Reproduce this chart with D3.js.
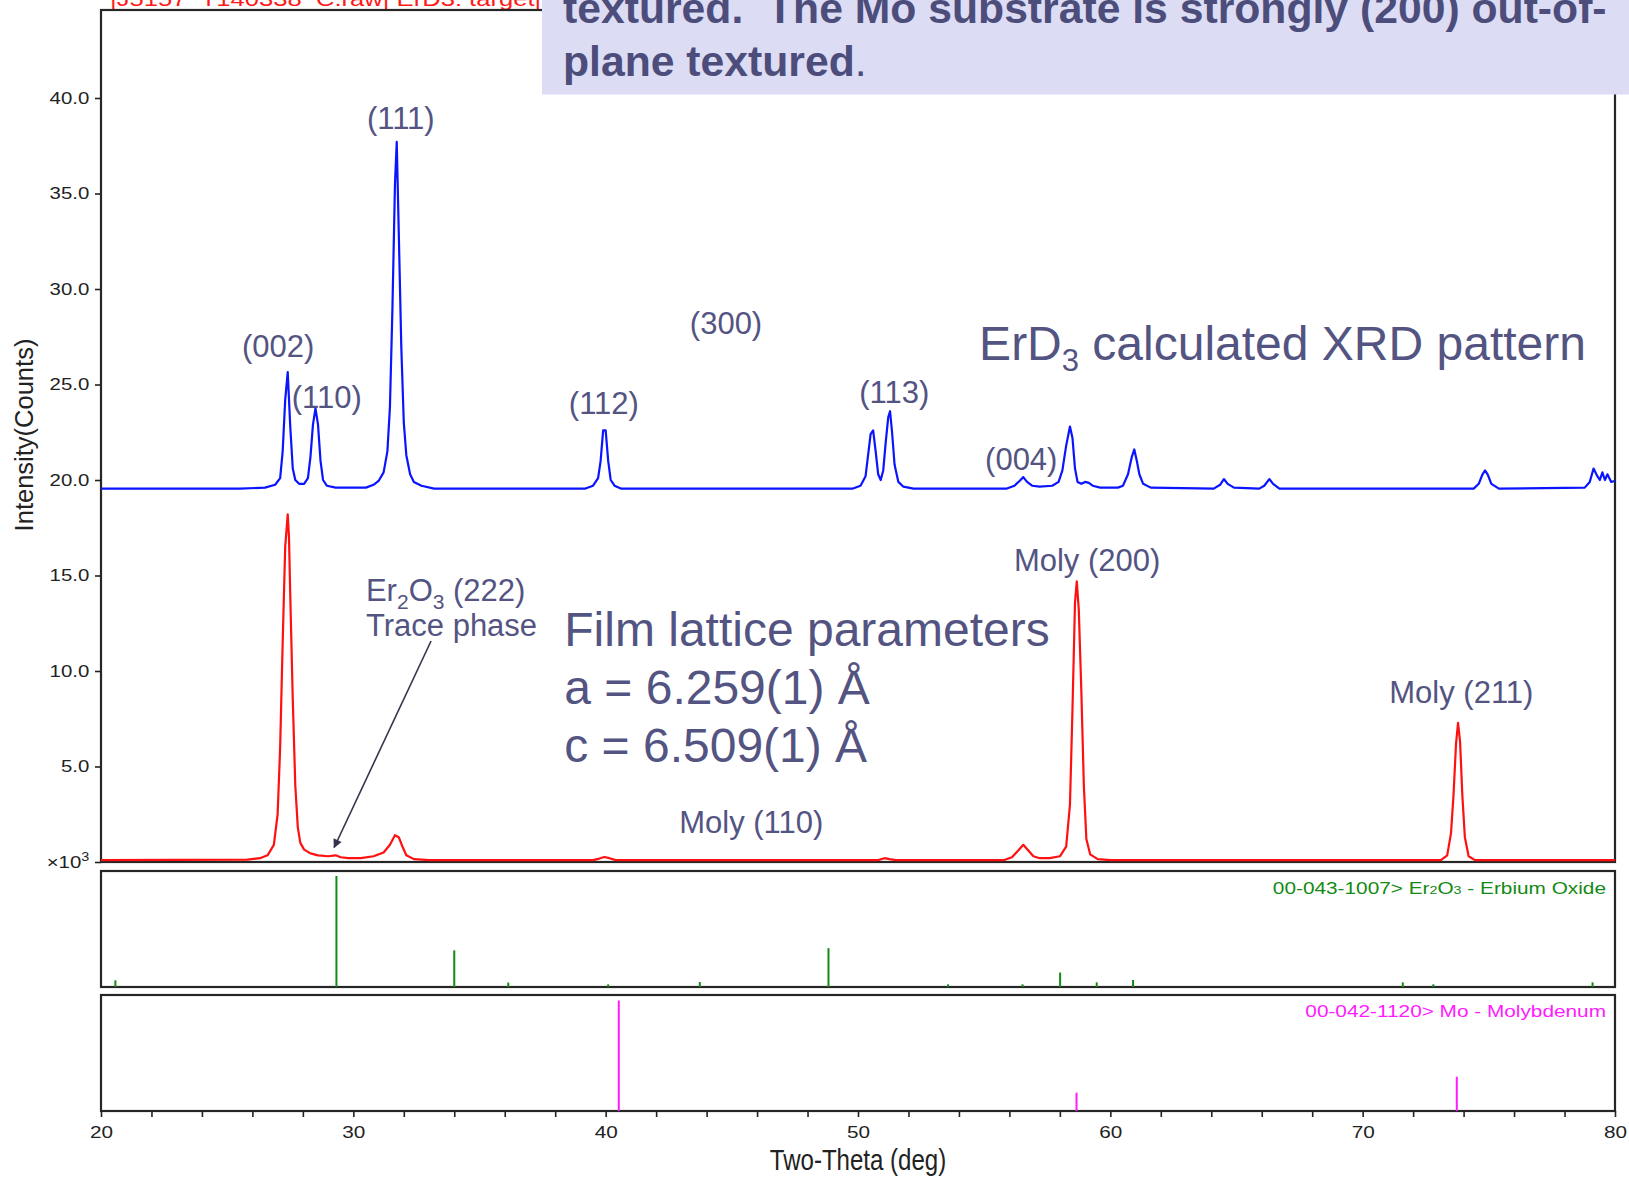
<!DOCTYPE html>
<html>
<head>
<meta charset="utf-8">
<script src="https://cdn.jsdelivr.net/npm/d3@7"></script>
<style>
  html, body { margin: 0; padding: 0; background: #fff; }
  svg { display: block; }
</style>
</head>
<body>
<svg id="chart" width="1629" height="1177"></svg>
<script>
// ErD3 calculated pattern: [2θ (deg), intensity (×10³ counts)]
const erd3Calculated = [
  [20.0, 19.55], [25.5, 19.55], [26.5, 19.6], [26.9, 19.75], [27.1, 20.1], [27.2, 21.5],
  [27.3, 24.2], [27.4, 25.65], [27.5, 22.8], [27.6, 20.6], [27.7, 20.0], [27.85, 19.8],
  [28.05, 19.8], [28.2, 20.1], [28.3, 21.2], [28.4, 22.9], [28.5, 23.75], [28.6, 22.9],
  [28.7, 21.0], [28.8, 20.0], [28.95, 19.7], [29.3, 19.6], [30.5, 19.6], [30.8, 19.75],
  [31.0, 19.95], [31.2, 20.4], [31.35, 21.5], [31.45, 23.8], [31.55, 29.0], [31.65, 35.5],
  [31.72, 37.7], [31.8, 33.0], [31.9, 27.0], [32.0, 23.0], [32.1, 21.3], [32.25, 20.3],
  [32.4, 19.9], [32.7, 19.7], [33.2, 19.55], [39.2, 19.55], [39.5, 19.7], [39.7, 20.1],
  [39.8, 21.0], [39.9, 22.6], [40.0, 22.6], [40.1, 21.0], [40.2, 20.0], [40.35, 19.7],
  [40.6, 19.55], [49.8, 19.55], [50.1, 19.7], [50.3, 20.2], [50.4, 21.3], [50.5, 22.4],
  [50.6, 22.6], [50.7, 21.5], [50.8, 20.3], [50.9, 20.0], [51.0, 20.5], [51.1, 22.0],
  [51.2, 23.3], [51.27, 23.6], [51.35, 22.5], [51.45, 20.8], [51.6, 19.9], [51.8, 19.65],
  [52.2, 19.55], [55.9, 19.55], [56.2, 19.7], [56.4, 19.95], [56.55, 20.15], [56.7, 19.9],
  [56.9, 19.7], [57.2, 19.65], [57.7, 19.7], [57.95, 19.9], [58.1, 20.5], [58.25, 21.8],
  [58.4, 22.8], [58.5, 22.2], [58.6, 20.6], [58.7, 19.9], [58.85, 19.8], [59.0, 19.9],
  [59.15, 19.85], [59.3, 19.7], [59.6, 19.6], [60.3, 19.6], [60.5, 19.7], [60.7, 20.3],
  [60.85, 21.2], [60.95, 21.6], [61.05, 21.0], [61.15, 20.3], [61.3, 19.8], [61.6, 19.6],
  [64.1, 19.55], [64.35, 19.75], [64.5, 20.05], [64.65, 19.8], [64.9, 19.6], [65.9, 19.55],
  [66.1, 19.7], [66.3, 20.05], [66.45, 19.8], [66.7, 19.55], [74.4, 19.55], [74.6, 19.8],
  [74.75, 20.3], [74.85, 20.5], [74.95, 20.3], [75.1, 19.8], [75.4, 19.55], [78.8, 19.6],
  [79.0, 19.9], [79.15, 20.6], [79.3, 20.2], [79.4, 20.0], [79.5, 20.4], [79.6, 20.0],
  [79.7, 20.3], [79.85, 19.9], [80.0, 19.95]
];

// Measured film scan: [2θ (deg), intensity (×10³ counts)]
const filmMeasured = [
  [20.0, 0.1], [25.8, 0.12], [26.3, 0.2], [26.6, 0.35], [26.85, 0.9], [27.0, 2.5],
  [27.1, 6.0], [27.2, 11.5], [27.3, 16.5], [27.4, 18.2], [27.45, 17.0], [27.5, 14.0],
  [27.6, 8.5], [27.7, 4.0], [27.8, 1.8], [27.9, 1.0], [28.05, 0.65], [28.3, 0.45],
  [28.6, 0.35], [29.0, 0.3], [29.3, 0.35], [29.5, 0.25], [29.8, 0.2], [30.3, 0.2],
  [30.8, 0.3], [31.2, 0.5], [31.45, 0.9], [31.65, 1.4], [31.8, 1.3], [31.95, 0.8],
  [32.1, 0.35], [32.4, 0.15], [33.0, 0.1], [39.5, 0.1], [39.75, 0.18], [39.95, 0.26],
  [40.15, 0.2], [40.4, 0.1], [50.8, 0.1], [51.05, 0.2], [51.25, 0.15], [51.5, 0.1],
  [55.8, 0.1], [56.1, 0.25], [56.35, 0.6], [56.55, 0.9], [56.75, 0.6], [56.95, 0.3],
  [57.2, 0.2], [57.6, 0.2], [58.0, 0.3], [58.25, 0.8], [58.4, 3.0], [58.5, 8.0],
  [58.6, 13.6], [58.67, 14.7], [58.75, 13.2], [58.85, 9.0], [58.95, 4.0], [59.05, 1.2],
  [59.2, 0.4], [59.5, 0.15], [60.0, 0.1], [73.1, 0.1], [73.35, 0.35], [73.5, 1.5],
  [73.6, 3.5], [73.7, 6.2], [73.78, 7.28], [73.86, 6.3], [73.95, 3.5], [74.05, 1.3],
  [74.2, 0.3], [74.45, 0.1], [80.0, 0.1]
];

// Reference stick patterns: [2θ (deg), relative intensity (%)]
const er2o3Reference = [
  [20.57, 6], [29.33, 100], [34.0, 33], [36.14, 4], [40.1, 2.4], [43.73, 4.5],
  [48.83, 35], [53.57, 2.4], [56.52, 2.4], [58.01, 13], [59.46, 4.2], [60.9, 6.3],
  [71.59, 4.2], [72.8, 2.4], [79.11, 4.2]
];
const moReference = [[40.52, 100], [58.66, 16.6], [73.73, 31]];

const intensityTicks = [0, 5, 10, 15, 20, 25, 30, 35, 40];
const twoThetaTicks = [20, 22, 24, 26, 28, 30, 32, 34, 36, 38, 40, 42, 44, 46, 48, 50,
  52, 54, 56, 58, 60, 62, 64, 66, 68, 70, 72, 74, 76, 78, 80];
const twoThetaLabels = [20, 30, 40, 50, 60, 70, 80];

const FONT = "'Liberation Sans', Arial, Helvetica, sans-serif";
const NOTE = "#545482";
const svg = d3.select("#chart").style("font-family", FONT);

const L = 101, R = 1615;
const x = d3.scaleLinear().domain([20, 80]).range([L, R]);
const y = d3.scaleLinear().domain([0, 40]).range([862, 98]);
const yEr = d3.scaleLinear().domain([0, 100]).range([987, 876]);
const yMo = d3.scaleLinear().domain([0, 100]).range([1111, 1000.5]);

const defs = svg.append("defs");
defs.append("clipPath").attr("id", "plotClip")
  .append("rect").attr("x", L).attr("y", 10).attr("width", R - L).attr("height", 855);
defs.append("marker").attr("id", "arrowHead")
  .attr("viewBox", "0 0 10 10").attr("refX", 9).attr("refY", 5)
  .attr("markerWidth", 10).attr("markerHeight", 9).attr("markerUnits", "userSpaceOnUse")
  .attr("orient", "auto")
  .append("path").attr("d", "M0,0 L10,5 L0,10 z").attr("fill", "#34344e");

// run header text along the top edge
svg.append("text")
  .attr("transform", "translate(110,6) scale(1.22,1)")
  .attr("font-size", 21).attr("fill", "#ff1a1a")
  .text("|J5157_T140338_C.raw| ErD3: target|");

// panel frames
const frame = svg.append("g").attr("fill", "none").attr("stroke", "#262626").attr("stroke-width", 2.2);
frame.append("rect").attr("x", L).attr("y", 10).attr("width", R - L).attr("height", 852);
frame.append("rect").attr("x", L).attr("y", 871).attr("width", R - L).attr("height", 116);
frame.append("rect").attr("x", L).attr("y", 995).attr("width", R - L).attr("height", 116);

// intensity axis
const yAxis = svg.append("g").attr("transform", `translate(${L},0)`)
  .call(d3.axisLeft(y).tickValues(intensityTicks).tickSize(6)
    .tickFormat(d => d === 0 ? "" : d.toFixed(1)));
yAxis.select(".domain").remove();
yAxis.selectAll(".tick line").attr("stroke", "#222").attr("stroke-width", 1.6);
yAxis.selectAll(".tick text").attr("font-family", FONT).attr("font-size", 17)
  .attr("fill", "#222").attr("x", -9.8).attr("transform", "scale(1.2,1)");
const expo = svg.append("text")
  .attr("transform", `translate(${L - 11.7},${y(0) + 6}) scale(1.2,1)`)
  .attr("text-anchor", "end").attr("font-size", 17).attr("fill", "#222");
expo.append("tspan").text("×10");
expo.append("tspan").attr("font-size", 12).attr("dy", -7).text("3");

// two-theta axis
const xAxis = svg.append("g").attr("transform", "translate(0,1111)")
  .call(d3.axisBottom(x).tickValues(twoThetaTicks).tickSize(6)
    .tickFormat(d => twoThetaLabels.includes(d) ? d : ""));
xAxis.select(".domain").remove();
xAxis.selectAll(".tick line").attr("stroke", "#222").attr("stroke-width", 1.6);
xAxis.selectAll(".tick text").attr("font-family", FONT).attr("font-size", 17)
  .attr("fill", "#222").attr("y", 27).attr("dy", 0).attr("transform", "scale(1.22,1)");

svg.append("text")
  .attr("transform", `translate(${x(50)},1170) scale(0.83,1)`)
  .attr("text-anchor", "middle").attr("font-size", 29).attr("fill", "#222")
  .text("Two-Theta (deg)");
svg.append("text")
  .attr("transform", "translate(33,435) rotate(-90)")
  .attr("text-anchor", "middle").attr("font-size", 25.5).attr("fill", "#222")
  .text("Intensity(Counts)");

// diffraction traces
const line = d3.line().x(d => x(d[0])).y(d => y(d[1]));
const traces = svg.append("g").attr("clip-path", "url(#plotClip)").attr("fill", "none")
  .attr("stroke-width", 2.2).attr("stroke-linejoin", "round");
traces.append("path").datum(erd3Calculated).attr("stroke", "#0a14ff").attr("d", line);
traces.append("path").datum(filmMeasured).attr("stroke", "#ff1010").attr("d", line);

// reference sticks
svg.append("g").selectAll("line").data(er2o3Reference).join("line")
  .attr("x1", d => x(d[0])).attr("x2", d => x(d[0]))
  .attr("y1", yEr(0)).attr("y2", d => yEr(d[1]))
  .attr("stroke", "#138a13").attr("stroke-width", 2);
svg.append("g").selectAll("line").data(moReference).join("line")
  .attr("x1", d => x(d[0])).attr("x2", d => x(d[0]))
  .attr("y1", yMo(0)).attr("y2", d => yMo(d[1]))
  .attr("stroke", "#ff1aff").attr("stroke-width", 2);

const erLegend = svg.append("text")
  .attr("transform", "translate(1606,894) scale(1.3,1)")
  .attr("text-anchor", "end").attr("font-size", 16).attr("fill", "#138a13");
erLegend.append("tspan").text("00-043-1007> Er");
erLegend.append("tspan").attr("font-size", 11).text("2");
erLegend.append("tspan").text("O");
erLegend.append("tspan").attr("font-size", 11).text("3");
erLegend.append("tspan").text(" - Erbium Oxide");
svg.append("text")
  .attr("transform", "translate(1606,1017) scale(1.3,1)")
  .attr("text-anchor", "end").attr("font-size", 16).attr("fill", "#ff1aff")
  .text("00-042-1120> Mo - Molybdenum");

// peak annotations, anchored in data units
const notes = svg.append("g").attr("fill", NOTE);
const hkl = [
  ["(002)", 27.02, 26.44], ["(110)", 28.95, 23.77], ["(111)", 31.88, 38.38],
  ["(300)", 44.77, 27.62], ["(112)", 39.93, 23.43], ["(113)", 51.44, 24.03],
  ["(004)", 56.47, 20.54], ["Moly (200)", 59.08, 15.24], ["Moly (211)", 73.91, 8.32],
  ["Moly (110)", 45.77, 1.52]
];
notes.selectAll("text.hkl").data(hkl).join("text").attr("class", "hkl")
  .attr("x", d => x(d[1])).attr("y", d => y(d[2]))
  .attr("text-anchor", "middle").attr("font-size", 31).text(d => d[0]);

const calc = notes.append("text").attr("x", x(54.8)).attr("y", y(26.26)).attr("font-size", 48);
calc.append("tspan").text("ErD");
calc.append("tspan").attr("font-size", 31).attr("dy", 11).text("3");
calc.append("tspan").attr("dy", -11).text(" calculated XRD pattern");

const trace = notes.append("text").attr("x", x(30.5)).attr("y", y(13.69)).attr("font-size", 31);
trace.append("tspan").text("Er");
trace.append("tspan").attr("font-size", 21).attr("dy", 8).text("2");
trace.append("tspan").attr("dy", -8).text("O");
trace.append("tspan").attr("font-size", 21).attr("dy", 8).text("3");
trace.append("tspan").attr("dy", -8).text(" (222)");
notes.append("text").attr("x", x(30.5)).attr("y", y(11.84)).attr("font-size", 31).text("Trace phase");

const lattice = [["Film lattice parameters", 11.29], ["a = 6.259(1) Å", 8.27], ["c = 6.509(1) Å", 5.25]];
notes.selectAll("text.lat").data(lattice).join("text").attr("class", "lat")
  .attr("x", x(38.36)).attr("y", d => y(d[1])).attr("font-size", 48).text(d => d[0]);

svg.append("line")
  .attr("x1", x(33.08)).attr("y1", y(11.57)).attr("x2", x(29.24)).attr("y2", y(0.76))
  .attr("stroke", "#34344e").attr("stroke-width", 1.6).attr("marker-end", "url(#arrowHead)");

// summary box across the top right
svg.append("rect").attr("x", 542).attr("y", -2).attr("width", 1100).attr("height", 96.5)
  .attr("fill", "#dcdcf4");
const box = svg.append("g").attr("fill", "#4d4d7b").attr("font-size", 42.7);
box.append("text").attr("x", 563).attr("y", 23).attr("font-weight", "bold")
  .text("textured.  The Mo substrate is strongly (200) out-of-")
  .attr("xml:space", "preserve").style("white-space", "pre");
const l2 = box.append("text").attr("x", 563).attr("y", 76);
l2.append("tspan").attr("font-weight", "bold").text("plane textured");
l2.append("tspan").text(".");
</script>
</body>
</html>
